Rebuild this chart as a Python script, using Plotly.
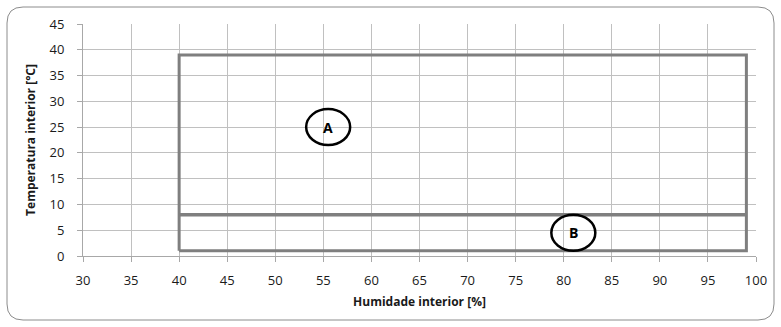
import plotly.graph_objects as go

# zone outlines (humidity %, temperature °C)
zona_hum = [40, 99, 99, 40, 40]
zona_temp = [1, 1, 39, 39, 1]
divisao_hum = [40, 99]
divisao_temp = [8, 8]

# zone labels
rotulos = ["A", "B"]
rotulo_hum = [55.5, 81]
rotulo_temp = [25, 4.5]

x_ticks = list(range(30, 101, 5))
y_ticks = list(range(0, 46, 5))

W, H = 781, 327
L, R, T, B = 83, 25, 24, 71
pw, ph = W - L - R, H - T - B

def px(xp):
    return (xp - L) / pw

def py(yp):
    return (H - B - yp) / ph

fig = go.Figure()
fig.add_trace(go.Scatter(x=zona_hum, y=zona_temp, mode="lines",
                         line=dict(color="#7f7f7f", width=3), hoverinfo="skip"))
fig.add_trace(go.Scatter(x=divisao_hum, y=divisao_temp, mode="lines",
                         line=dict(color="#7f7f7f", width=3.5), hoverinfo="skip"))

# outer rounded frame
x0, x1, y0, y1, r = 7, 774, 7, 320, 16
path = (f"M {px(x0+r)} {py(y0)} L {px(x1-r)} {py(y0)} Q {px(x1)} {py(y0)} {px(x1)} {py(y0+r)} "
        f"L {px(x1)} {py(y1-r)} Q {px(x1)} {py(y1)} {px(x1-r)} {py(y1)} "
        f"L {px(x0+r)} {py(y1)} Q {px(x0)} {py(y1)} {px(x0)} {py(y1-r)} "
        f"L {px(x0)} {py(y0+r)} Q {px(x0)} {py(y0)} {px(x0+r)} {py(y0)} Z")
fig.add_shape(type="path", xref="paper", yref="paper", path=path,
              line=dict(color="#8c8c8c", width=1), layer="below")

for t, xh, yt in zip(rotulos, rotulo_hum, rotulo_temp):
    fig.add_shape(type="circle", xref="x", yref="y", xsizemode="pixel", ysizemode="pixel",
                  xanchor=xh, yanchor=yt, x0=-22, x1=22, y0=-18, y1=18,
                  line=dict(color="black", width=2.5), fillcolor="rgba(0,0,0,0)")
    fig.add_annotation(x=xh, y=yt, text=f"<b>{t}</b>", showarrow=False,
                       font=dict(family="Open Sans", size=14, color="black"))

fig.update_layout(
    width=W, height=H, margin=dict(l=L, r=R, t=T, b=B, autoexpand=False),
    paper_bgcolor="white", plot_bgcolor="white", showlegend=False,
    font=dict(family="Open Sans, sans-serif", size=13, color="#1a1a1a"),
)
fig.update_xaxes(range=[30, 100], tickvals=x_ticks, showgrid=True, gridcolor="#c0c0c0",
                 gridwidth=1, zeroline=False, showline=True, linecolor="#a8a8a8",
                 ticks="outside", ticklen=5, tickcolor="#a8a8a8", automargin=False,
                 ticklabelstandoff=7,
                 title=dict(text="<b>Humidade interior [%]</b>", font=dict(size=12), standoff=10))
fig.update_yaxes(range=[0, 45], tickvals=y_ticks, showgrid=True, gridcolor="#c0c0c0",
                 gridwidth=1, zeroline=False, showline=True, linecolor="#a8a8a8",
                 ticks="outside", ticklen=5, tickcolor="#a8a8a8", automargin=False,
                 ticklabelstandoff=10,
                 title=dict(text="<b>Temperatura interior [°C]</b>", font=dict(size=12), standoff=11))

fig.write_html("out.html", config={"displayModeBar": False},
               post_script="document.body.style.margin='0';")
